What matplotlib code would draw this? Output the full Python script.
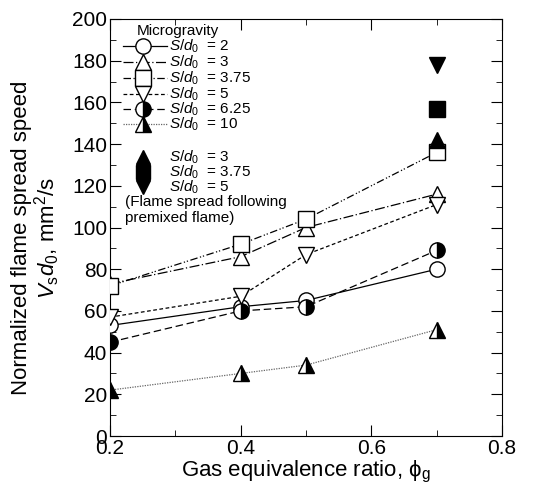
import numpy as np
import matplotlib
matplotlib.use("Agg")
import matplotlib.pyplot as plt
from matplotlib.ticker import MultipleLocator

plt.rcParams['font.family'] = ['Liberation Sans', 'DejaVu Sans']
plt.rcParams['mathtext.fontset'] = 'custom'
plt.rcParams['mathtext.rm'] = 'Liberation Sans'
plt.rcParams['mathtext.it'] = 'Liberation Sans:italic'
plt.rcParams['mathtext.bf'] = 'Liberation Sans:bold'

# microgravity data
phi = [0.2, 0.4, 0.5, 0.7]
v_2 = [53, 62, 65, 80]
v_3 = [73, 86, 100, 116]
v_375 = [72, 92, 104, 136]
v_5 = [57, 67, 87, 111]
v_625 = [45, 60, 62, 89]
v_10 = [22, 30, 34, 51]

# flame spread following premixed flame
phi_pre = [0.7]
pre_3 = [142]
pre_375 = [157]
pre_5 = [178]

W, H = 554, 501
x0, x1, y0, y1 = 110, 502, 436, 19  # axes box in pixels
fig = plt.figure(figsize=(W / 100, H / 100), dpi=100)
ax = fig.add_axes([x0 / W, (H - y0) / H, (x1 - x0) / W, (y0 - y1) / H])


def ac(px, py):
    # pixel -> axes fraction
    return (px - x0) / (x1 - x0), (y0 - py) / (y0 - y1)


ms = 11
lw = 0.9
leg_fs = 11
series = [
    (v_2, 'o', 'none', '-', '2'),
    (v_3, '^', 'none', (0, (8, 2, 1, 2)), '3'),
    (v_375, 's', 'none', (0, (6, 2, 1, 1.5, 1, 2)), '3.75'),
    (v_5, 'v', 'none', (0, (3, 2)), '5'),
    (v_625, 'o', 'right', (0, (6, 3)), '6.25'),
    (v_10, '^', 'right', (0, (1, 1)), '10'),
]

row_y = [46, 62, 78, 94, 109, 124]
for (vals, mk, fs, ls, lab), ry in zip(series, row_y):
    if fs == 'right':
        kw = dict(fillstyle='right', markerfacecolor='black', markerfacecoloralt='white')
    else:
        kw = dict(markerfacecolor='white')
    lcol = '0.4' if lab == '10' else 'black'
    ax.plot(phi, vals, color=lcol, linestyle=ls, linewidth=lw, zorder=2)
    ax.plot(phi, vals, linestyle='none', marker=mk, markersize=ms,
            markeredgecolor='black', markeredgewidth=1.0, zorder=3, **kw)
    # legend entry
    xa, ya = ac(123, ry)
    xb, _ = ac(167, ry)
    xm, _ = ac(143, ry)
    xt, _ = ac(169, ry)
    ax.plot([xa, xb], [ya, ya], transform=ax.transAxes, color=lcol,
            linestyle=ls, linewidth=lw, clip_on=False, zorder=2)
    ax.plot([xm], [ya], transform=ax.transAxes, marker=mk, markersize=ms,
            markeredgecolor='black', markeredgewidth=1.0, clip_on=False, zorder=3, **kw)
    ax.text(xt, ya, r'$S/d_0$  = ' + lab, transform=ax.transAxes,
            fontsize=leg_fs, va='center', ha='left')

tx, ty = ac(137, 31)
ax.text(tx, ty, 'Microgravity', transform=ax.transAxes, fontsize=leg_fs,
        va='center', ha='left')

pre = [(pre_3, '^', '3', 157), (pre_375, 's', '3.75', 172), (pre_5, 'v', '5', 187)]
for vals, mk, lab, ry in pre:
    ax.plot(phi_pre, vals, linestyle='none', marker=mk, markersize=ms,
            color='black', zorder=3)
    xm, ya = ac(143, ry)
    xt, _ = ac(169, ry)
    ax.plot([xm], [ya], transform=ax.transAxes, marker=mk, markersize=9.5,
            color='black', clip_on=False, zorder=3)
    ax.text(xt, ya, r'$S/d_0$  = ' + lab, transform=ax.transAxes,
            fontsize=leg_fs, va='center', ha='left')

tx, ty = ac(125, 202)
ax.text(tx, ty, '(Flame spread following', transform=ax.transAxes,
        fontsize=leg_fs, va='center', ha='left')
tx, ty = ac(125, 218)
ax.text(tx, ty, 'premixed flame)', transform=ax.transAxes,
        fontsize=leg_fs, va='center', ha='left')

ax.set_xlim(0.2, 0.8)
ax.set_ylim(0, 200)
ax.xaxis.set_major_locator(MultipleLocator(0.2))
ax.xaxis.set_minor_locator(MultipleLocator(0.1))
ax.yaxis.set_major_locator(MultipleLocator(20))
ax.yaxis.set_minor_locator(MultipleLocator(10))
ax.tick_params(which='both', direction='in', top=True, right=True, labelsize=15, pad=2)
ax.tick_params(which='major', length=8)
ax.tick_params(which='minor', length=4)
ax.xaxis.set_major_formatter(plt.FuncFormatter(lambda v, p: f'{v:.1f}'))

ax.set_xlabel(r'Gas equivalence ratio, $\mathrm{\phi}_{\mathrm{g}}$', fontsize=16, labelpad=1)
fig.text(36.5 / W, 1 - 238 / H,
         'Normalized flame spread speed\n' + r'$V_{\mathrm{s}}d_0$, mm$^2$/s',
         fontsize=16, rotation=90, ha='center', va='center',
         multialignment='center', linespacing=1.0)

fig.savefig('out.png', dpi=100)
